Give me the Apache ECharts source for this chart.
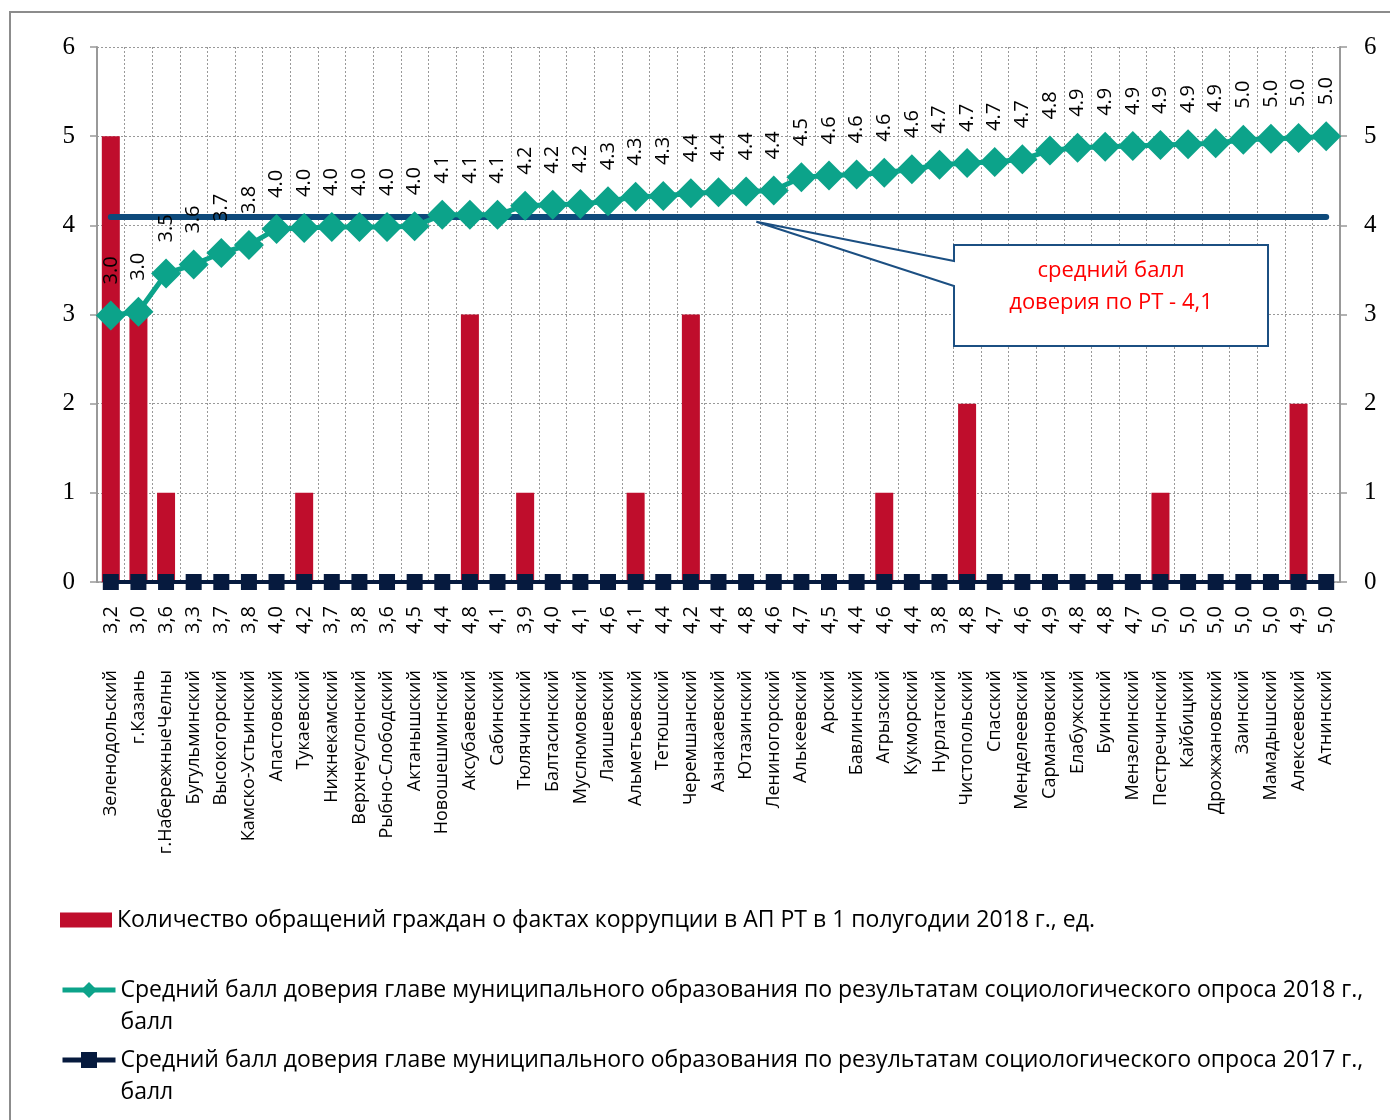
<!DOCTYPE html>
<html><head><meta charset="utf-8">
<script src="https://cdn.jsdelivr.net/npm/echarts@6/dist/echarts.min.js"></script>
<style>html,body{margin:0;padding:0;background:#fff}#c{width:1390px;height:1120px}</style>
</head><body><div id="c"></div><script>
const categories = ['Зеленодольский','г.Казань','г.НабережныеЧелны','Бугульминский','Высокогорский','Камско-Устьинский','Апастовский','Тукаевский','Нижнекамский','Верхнеуслонский','Рыбно-Слободский','Актанышский','Новошешминский','Аксубаевский','Сабинский','Тюлячинский','Балтасинский','Муслюмовский','Лаишевский','Альметьевский','Тетюшский','Черемшанский','Азнакаевский','Ютазинский','Лениногорский','Алькеевский','Арский','Бавлинский','Агрызский','Кукморский','Нурлатский','Чистопольский','Спасский','Менделеевский','Сармановский','Елабужский','Буинский','Мензелинский','Пестречинский','Кайбицкий','Дрожжановский','Заинский','Мамадышский','Алексеевский','Атнинский'];
const score2017 = [3.2,3.0,3.6,3.3,3.7,3.8,4.0,4.2,3.7,3.8,3.6,4.5,4.4,4.8,4.1,3.9,4.0,4.1,4.6,4.1,4.4,4.2,4.4,4.8,4.6,4.7,4.5,4.4,4.6,4.4,3.8,4.8,4.7,4.6,4.9,4.8,4.8,4.7,5.0,5.0,5.0,5.0,5.0,4.9,5.0];
const score2017Plotted = [0,0,0,0,0,0,0,0,0,0,0,0,0,0,0,0,0,0,0,0,0,0,0,0,0,0,0,0,0,0,0,0,0,0,0,0,0,0,0,0,0,0,0,0,0];
const complaints = [5,3,1,0,0,0,0,1,0,0,0,0,0,3,0,1,0,0,0,1,0,3,0,0,0,0,0,0,1,0,0,2,0,0,0,0,0,0,1,0,0,0,0,2,0];
const score2018 = [2.99,3.03,3.46,3.56,3.69,3.78,3.96,3.97,3.98,3.98,3.98,3.99,4.12,4.12,4.12,4.22,4.23,4.24,4.27,4.32,4.33,4.36,4.37,4.38,4.39,4.54,4.56,4.57,4.59,4.63,4.68,4.70,4.71,4.74,4.84,4.87,4.88,4.89,4.90,4.91,4.92,4.96,4.97,4.98,5.00];
const avgRT = 4.1;
const yMin = 0, yMax = 6, yStep = 1;
const seriesNames = [
  'Количество обращений граждан о фактах коррупции в АП РТ в 1 полугодии 2018 г., ед.',
  'Средний балл доверия главе муниципального образования по результатам социологического опроса 2018 г., балл',
  'Средний балл доверия главе муниципального образования по результатам социологического опроса 2017 г., балл'
];
const calloutText = 'средний балл\nдоверия по РТ - 4,1';

const RED = '#BF0D2C', GREEN = '#0CA38A', NAVY = '#0E4A7B', DARK = '#061A3E';
const SANS = 'Open Sans';
const SERIF = "'Liberation Serif', 'Times New Roman', serif";
const chart = echarts.init(document.getElementById('c'), null, {renderer: 'canvas'});

const wrapLast = n => { const i = n.lastIndexOf(' '); return '\n' + n.slice(0, i) + '\n' + n.slice(i + 1); };
const legendText = {fontFamily: SANS, fontSize: 23, color: '#000', lineHeight: 32};

const yAxisBase = {
  type: 'value', min: yMin, max: yMax, interval: yStep,
  axisLine: {show: true, lineStyle: {color: '#999', width: 2}},
  axisTick: {show: true, length: 7, lineStyle: {color: '#999', width: 1.5}},
  axisLabel: {fontFamily: SERIF, fontSize: 25, color: '#000'}
};

chart.setOption({
  animation: false,
  grid: {left: 97, right: 50, top: 47, bottom: 538},
  xAxis: [{
    type: 'category', data: categories, boundaryGap: true,
    axisLine: {show: true, lineStyle: {color: '#999', width: 1.5}},
    axisTick: {show: false},
    splitLine: {show: true, interval: 0, lineStyle: {color: '#999', type: [2, 2], width: 1}},
    axisLabel: {interval: 0, rotate: 90, margin: 88, fontFamily: SANS, fontSize: 18, color: '#000'}
  }, {
    type: 'category', data: score2017.map(v => v.toFixed(1).replace('.', ',')), position: 'bottom',
    axisLine: {show: false}, axisTick: {show: false}, splitLine: {show: false},
    axisLabel: {interval: 0, rotate: 90, margin: 24, fontFamily: SANS, fontSize: 20, color: '#000'}
  }],
  yAxis: [Object.assign({}, yAxisBase, {
    position: 'left',
    axisLabel: Object.assign({}, yAxisBase.axisLabel, {margin: 22}),
    splitLine: {show: true, lineStyle: {color: '#999', type: [2, 2], width: 1}}
  }), Object.assign({}, yAxisBase, {
    position: 'right',
    axisLabel: Object.assign({}, yAxisBase.axisLabel, {margin: 24}),
    splitLine: {show: false}
  })],
  legend: [{
    data: [seriesNames[0]], left: 60, top: 904, padding: 0,
    itemWidth: 52, itemHeight: 15, icon: 'rect', textStyle: legendText, selectedMode: false
  }, {
    data: [seriesNames[1]], left: 60, top: 942, padding: 0,
    itemWidth: 53, itemHeight: 20, textStyle: legendText,
    lineStyle: {width: 5, color: GREEN}, formatter: wrapLast, selectedMode: false
  }, {
    data: [seriesNames[2]], left: 60, top: 1012, padding: 0,
    itemWidth: 53, itemHeight: 20, textStyle: legendText,
    lineStyle: {width: 5, color: DARK}, formatter: wrapLast, selectedMode: false
  }],
  series: [{
    name: seriesNames[0], type: 'bar', data: complaints, barWidth: 18,
    itemStyle: {color: RED}, z: 1
  }, {
    name: seriesNames[2], type: 'line', data: score2017Plotted,
    symbol: 'rect', symbolSize: 16, lineStyle: {color: DARK, width: 4}, itemStyle: {color: DARK}, z: 3
  }, {
    name: 'avg', type: 'line', data: [], z: 5,
    markLine: {
      silent: true, symbol: ['none', 'none'], label: {show: false},
      lineStyle: {color: NAVY, width: 6, type: 'solid', cap: 'round'},
      data: [[{coord: [categories[0], avgRT]}, {coord: [categories[categories.length - 1], avgRT]}]]
    }
  }, {
    name: seriesNames[1], type: 'line', data: score2018,
    symbol: 'diamond', symbolSize: 30, lineStyle: {color: GREEN, width: 5}, itemStyle: {color: GREEN}, z: 7,
    label: {
      show: true, position: 'top', distance: 16, rotate: 90, align: 'left', verticalAlign: 'middle',
      fontFamily: SANS, fontSize: 20, color: '#000', formatter: p => p.value.toFixed(1)
    },
    labelLayout: {hideOverlap: false}
  }],
  graphic: [{
    type: 'rect', z: 100, silent: true,
    shape: {x: 10, y: 12, width: 1420, height: 1200},
    style: {fill: 'none', stroke: '#8c8c8c', lineWidth: 2}
  }]
});

// callout anchored on the average line between Ютазинский and Лениногорский
const pA = chart.convertToPixel({xAxisIndex: 0, yAxisIndex: 0}, [23, avgRT - 0.06]);
const pB = chart.convertToPixel({xAxisIndex: 0, yAxisIndex: 0}, [24, avgRT - 0.06]);
const ax = pA[0] + (pB[0] - pA[0]) * 0.37, ay = pA[1];
const bx0 = 954, by0 = 245, bx1 = 1268, by1 = 346;
chart.setOption({
  graphic: [{
    type: 'rect', z: 100, silent: true,
    shape: {x: 10, y: 12, width: 1420, height: 1200},
    style: {fill: 'none', stroke: '#8c8c8c', lineWidth: 2}
  }, {
    type: 'polygon', z: 50, silent: true,
    shape: {points: [[bx0, by0], [bx1, by0], [bx1, by1], [bx0, by1], [bx0, 286], [ax, ay], [bx0, 261]]},
    style: {fill: '#fff', stroke: '#1B4F82', lineWidth: 2}
  }, {
    type: 'text', z: 51, silent: true,
    style: {
      text: calloutText, x: (bx0 + bx1) / 2, y: 287, align: 'center', verticalAlign: 'middle',
      fill: '#FF0000', font: '22px "Open Sans"', lineHeight: 32
    }
  }]
});
</script></body></html>
